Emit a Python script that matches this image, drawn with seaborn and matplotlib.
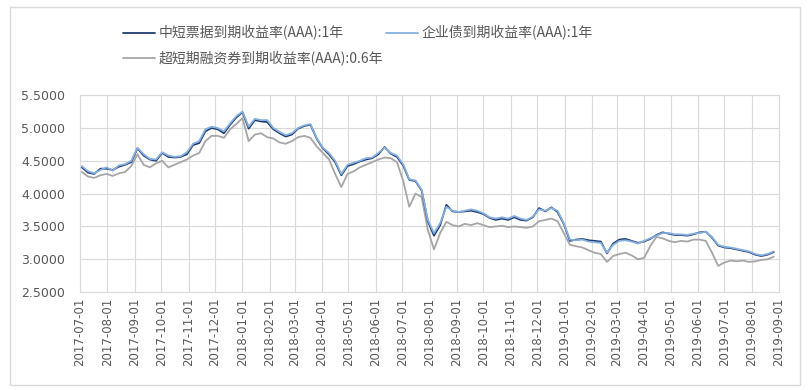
import pandas as pd
import matplotlib
matplotlib.use("Agg")
import matplotlib.pyplot as plt
import matplotlib.dates as mdates
from matplotlib.ticker import FormatStrFormatter, MultipleLocator
from matplotlib.patches import Rectangle
import seaborn as sns

# weekly readings (Mondays) from 2017-07-03 to 2019-08-26
start_date = "2017-07-03"

mtn_1y = [  # 中短票据到期收益率(AAA):1年
    4.40, 4.32, 4.30, 4.38, 4.38,
    4.36, 4.41, 4.44, 4.48,
    4.69, 4.58, 4.52, 4.50,
    4.62, 4.56, 4.55, 4.56, 4.60,
    4.74, 4.77, 4.95, 5.00,
    4.98, 4.92, 5.05, 5.16,
    5.24, 4.99, 5.12, 5.10, 5.09,
    4.98, 4.92, 4.87, 4.90,
    4.99, 5.03, 5.05, 4.84,
    4.69, 4.60, 4.48, 4.28, 4.42,
    4.45, 4.49, 4.52, 4.54,
    4.60, 4.71, 4.61, 4.56,
    4.43, 4.21, 4.19, 4.05, 3.58,
    3.36, 3.52, 3.83, 3.73,
    3.72, 3.73, 3.74, 3.72,
    3.69, 3.63, 3.60, 3.62, 3.60,
    3.64, 3.60, 3.59, 3.64,
    3.78, 3.73, 3.79, 3.72, 3.54,
    3.28, 3.30, 3.31, 3.29,
    3.28, 3.27, 3.09, 3.24,
    3.30, 3.31, 3.28, 3.25,
    3.27, 3.31, 3.37, 3.41, 3.39,
    3.37, 3.37, 3.36, 3.38,
    3.41, 3.42, 3.33, 3.21,
    3.18, 3.17, 3.15, 3.13, 3.11,
    3.07, 3.05, 3.07, 3.11,
]

corp_1y = [  # 企业债到期收益率(AAA):1年
    4.42, 4.34, 4.31, 4.36, 4.40,
    4.35, 4.43, 4.45, 4.50,
    4.70, 4.60, 4.53, 4.52,
    4.63, 4.58, 4.56, 4.57, 4.63,
    4.76, 4.80, 4.98, 5.02,
    5.00, 4.95, 5.07, 5.18,
    5.25, 5.02, 5.14, 5.12, 5.12,
    5.00, 4.94, 4.89, 4.92,
    5.00, 5.04, 5.06, 4.85,
    4.70, 4.62, 4.50, 4.30, 4.44,
    4.47, 4.50, 4.54, 4.55,
    4.62, 4.70, 4.62, 4.58,
    4.45, 4.22, 4.20, 4.06, 3.60,
    3.40, 3.55, 3.80, 3.74,
    3.72, 3.74, 3.76, 3.74,
    3.70, 3.64, 3.62, 3.64, 3.62,
    3.66, 3.62, 3.60, 3.65,
    3.76, 3.74, 3.78, 3.74, 3.55,
    3.30, 3.29, 3.30, 3.27,
    3.26, 3.25, 3.10, 3.22,
    3.28, 3.29, 3.27, 3.24,
    3.28, 3.32, 3.36, 3.40, 3.40,
    3.38, 3.38, 3.37, 3.39,
    3.40, 3.42, 3.34, 3.22,
    3.19, 3.18, 3.16, 3.14, 3.12,
    3.08, 3.06, 3.08, 3.12,
]

scp_06y = [  # 超短期融资券到期收益率(AAA):0.6年
    4.33, 4.26, 4.24, 4.28, 4.30,
    4.27, 4.31, 4.33, 4.42,
    4.60, 4.44, 4.40, 4.46,
    4.50, 4.40, 4.44, 4.48, 4.52,
    4.58, 4.62, 4.80, 4.88,
    4.88, 4.85, 4.98, 5.06,
    5.15, 4.80, 4.90, 4.92, 4.86,
    4.84, 4.78, 4.76, 4.80,
    4.86, 4.88, 4.85, 4.72,
    4.62, 4.52, 4.30, 4.10, 4.30,
    4.34, 4.40, 4.44, 4.48,
    4.52, 4.55, 4.54, 4.48,
    4.20, 3.80, 4.00, 3.95, 3.45,
    3.15, 3.40, 3.57, 3.52,
    3.50, 3.54, 3.52, 3.55,
    3.52, 3.49, 3.50, 3.51, 3.49,
    3.50, 3.49, 3.48, 3.50,
    3.58, 3.60, 3.62, 3.58, 3.40,
    3.22, 3.20, 3.18, 3.14,
    3.10, 3.08, 2.96, 3.05,
    3.08, 3.10, 3.06, 3.00,
    3.02, 3.20, 3.34, 3.32, 3.28,
    3.26, 3.28, 3.27, 3.30,
    3.30, 3.28, 3.10, 2.90,
    2.95, 2.98, 2.97, 2.98, 2.96,
    2.97, 2.99, 3.00, 3.04,
]

names = ["中短票据到期收益率(AAA):1年", "企业债到期收益率(AAA):1年",
         "超短期融资券到期收益率(AAA):0.6年"]
colors = ["#1f3a6e", "#86b0e0", "#a6a6a6"]

dates = pd.date_range(start_date, periods=len(corp_1y), freq="7D")
df = pd.DataFrame({"date": dates, names[0]: mtn_1y, names[1]: corp_1y,
                   names[2]: scp_06y})

sns.set_theme(style="white")
plt.rcParams["font.family"] = ["Noto Sans CJK SC", "DejaVu Sans"]

fig = plt.figure(figsize=(8.09, 3.90), dpi=100)
ax = fig.add_axes([0.099, 0.251, 0.864, 0.505])

sns.lineplot(data=df, x="date", y=names[2], ax=ax, color=colors[2], lw=1.3, label=names[2])
sns.lineplot(data=df, x="date", y=names[0], ax=ax, color=colors[0], lw=1.3, label=names[0])
sns.lineplot(data=df, x="date", y=names[1], ax=ax, color=colors[1], lw=1.3, label=names[1])

ax.set_xlim(pd.Timestamp("2017-07-01"), pd.Timestamp("2019-09-01"))
ax.set_ylim(2.5, 5.5)
ax.yaxis.set_major_locator(MultipleLocator(0.5))
ax.yaxis.set_major_formatter(FormatStrFormatter("%.4f"))
ax.xaxis.set_major_locator(mdates.MonthLocator())
ax.xaxis.set_major_formatter(mdates.DateFormatter("%Y-%m-%d"))
ax.set_xlabel("")
ax.set_ylabel("")
ax.grid(True, color="#d9d9d9", lw=0.8)
for s in ax.spines.values():
    s.set_color("#d9d9d9")
    s.set_linewidth(0.8)
ax.tick_params(axis="both", length=0, colors="#595959", labelsize=9)
ax.tick_params(axis="x", labelsize=8.5, pad=4)
ax.tick_params(axis="y", pad=11)
for lab in ax.get_xticklabels():
    lab.set_rotation(90)
    lab.set_family("DejaVu Sans")
for lab in ax.get_yticklabels():
    lab.set_family("DejaVu Sans")

h, l = ax.get_legend_handles_labels()
order = [l.index(names[0]), l.index(names[2]), l.index(names[1])]
leg = fig.legend([h[i] for i in order], [l[i] for i in order], ncol=2,
                 loc="upper left", bbox_to_anchor=(0.152, 0.935), frameon=False,
                 fontsize=10, handlelength=2.3, handletextpad=0.25,
                 columnspacing=0.2, labelspacing=0.75, borderpad=0, borderaxespad=0)
for t in leg.get_texts():
    t.set_color("#595959")
ax.get_legend().remove()

fig.patches.append(Rectangle((10 / 809, 5 / 390), 790 / 809, 378 / 390,
                             transform=fig.transFigure, fill=False,
                             edgecolor="#d9d9d9", lw=1))

fig.savefig("out.png", dpi=100)
